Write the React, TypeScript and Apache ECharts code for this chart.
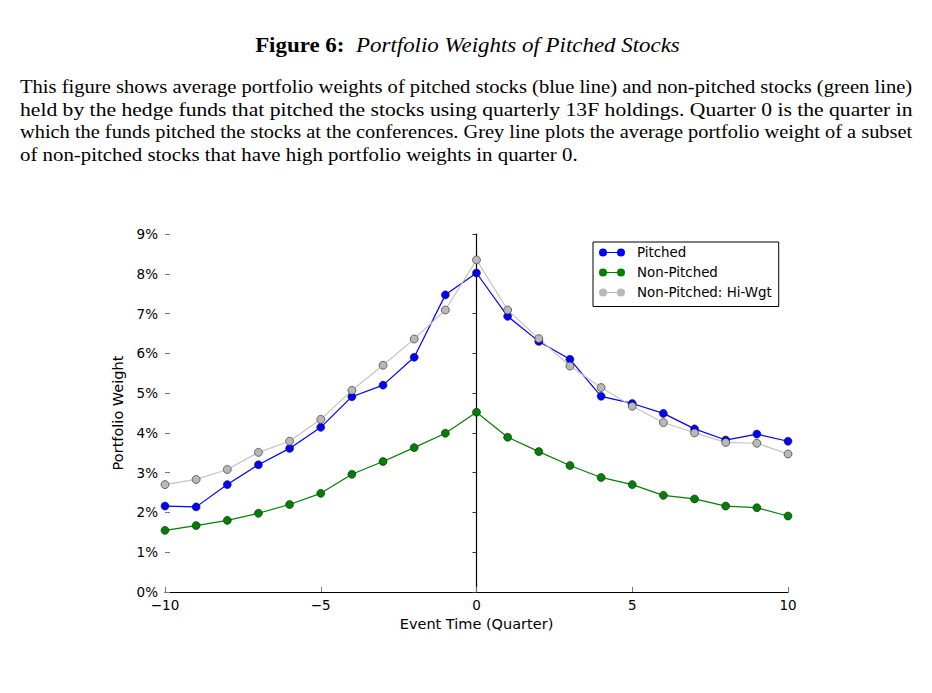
import React, { useEffect, useRef } from "react";
import * as echarts from "echarts";

const quarters = [-10, -9, -8, -7, -6, -5, -4, -3, -2, -1, 0, 1, 2, 3, 4, 5, 6, 7, 8, 9, 10];
const pitched = [2.16, 2.14, 2.7, 3.2, 3.61, 4.14, 4.91, 5.2, 5.9, 7.47, 8.02, 6.93, 6.3, 5.85, 4.92, 4.74, 4.49, 4.1, 3.82, 3.97, 3.79];
const nonPitched = [1.55, 1.67, 1.8, 1.98, 2.2, 2.48, 2.96, 3.28, 3.63, 3.99, 4.52, 3.89, 3.53, 3.18, 2.88, 2.7, 2.43, 2.34, 2.16, 2.12, 1.91];
const hiWgt = [2.7, 2.83, 3.08, 3.51, 3.79, 4.34, 5.07, 5.7, 6.36, 7.09, 8.35, 7.09, 6.37, 5.68, 5.14, 4.67, 4.26, 4.0, 3.76, 3.74, 3.47];

const seriesNames = ["Pitched", "Non-Pitched", "Non-Pitched: Hi-Wgt"];
const titleBold = "Figure 6:";
const titleItalic = "Portfolio Weights of Pitched Stocks";
const captionLines = [
  "This figure shows average portfolio weights of pitched stocks (blue line) and non-pitched stocks (green line)",
  "held by the hedge funds that pitched the stocks using quarterly 13F holdings. Quarter 0 is the quarter in",
  "which the funds pitched the stocks at the conferences. Grey line plots the average portfolio weight of a subset",
  "of non-pitched stocks that have high portfolio weights in quarter 0.",
];
const captionWidths = [893, 893, 893, 558];
const xAxisName = "Event Time (Quarter)";
const yAxisName = "Portfolio Weight";

const SANS = "DejaVu Sans";
const SERIF = "Liberation Serif";

const legendIcon =
  "path://M0,4A4,4,0,1,1,8,4A4,4,0,1,1,0,4Z M7,3.4L19,3.4L19,4.6L7,4.6Z M18,4A4,4,0,1,1,26,4A4,4,0,1,1,18,4Z";

function measure(text: string, font: string): number {
  const c = document.createElement("canvas");
  const ctx = c.getContext("2d");
  if (!ctx) return 0;
  ctx.font = font;
  return ctx.measureText(text).width;
}

export default function App() {
  const ref = useRef<HTMLDivElement>(null);
  useEffect(() => {
    if (!ref.current) return;
    const chart = echarts.init(ref.current, undefined, { renderer: "svg" });
    const mk = (vals: number[]) => quarters.map((q, i) => [q, vals[i]]);
    const lineColors = ["#0000ff", "#008000", "#c4c4c4"];
    const markColors = ["#0000ff", "#008000", "#b8b8b8"];
    const datas = [pitched, nonPitched, hiWgt];

    const titleSize = 21;
    const capSize = 18.5;
    const tItalic = "  " + titleItalic;
    const tw =
      measure(titleBold, `bold ${titleSize}px "${SERIF}"`) + measure(tItalic, `italic ${titleSize}px "${SERIF}"`);
    const titleScale = tw > 0 ? 425 / tw : 1;

    const graphic: any[] = [
      {
        type: "text",
        x: 467.5,
        y: 45,
        scaleX: titleScale,
        style: {
          text: `{b|${titleBold}}{i|${tItalic}}`,
          align: "center",
          verticalAlign: "middle",
          fill: "#000",
          rich: {
            b: { fontFamily: SERIF, fontWeight: "bold", fontSize: titleSize, fill: "#000" },
            i: { fontFamily: SERIF, fontStyle: "italic", fontSize: titleSize, fill: "#000" },
          },
        },
      },
      ...captionLines.map((t, i) => {
        const w = measure(t, `${capSize}px "${SERIF}"`);
        return {
          type: "text",
          x: 20,
          y: 87 + i * 22.5,
          scaleX: w > 0 ? captionWidths[i] / w : 1,
          style: {
            text: t,
            align: "left",
            verticalAlign: "middle",
            fill: "#000",
            fontFamily: SERIF,
            fontSize: capSize,
          },
        };
      }),
    ];

    chart.setOption({
      animation: false,
      backgroundColor: "#fff",
      graphic,
      grid: { left: 165, right: 144, top: 234, bottom: 101, containLabel: false, outerBoundsMode: "none" },
      legend: {
        orient: "vertical",
        left: 593,
        top: 242,
        backgroundColor: "#fff",
        borderColor: "#000",
        borderWidth: 1,
        borderRadius: 0,
        padding: [4, 7, 7.5, 6],
        itemGap: 7,
        itemWidth: 26,
        itemHeight: 8,
        icon: legendIcon,
        itemStyle: { borderWidth: 0 },
        textStyle: { fontFamily: SANS, fontSize: 13.4, color: "#000", padding: [0, 0, 0, 7] },
        data: seriesNames,
      },
      xAxis: {
        type: "value",
        min: -10,
        max: 10,
        interval: 5,
        name: xAxisName,
        nameLocation: "middle",
        nameGap: 22,
        nameTextStyle: { fontFamily: SANS, fontSize: 14.5, color: "#000" },
        axisLine: { onZero: false, lineStyle: { color: "#000", width: 1.2 } },
        axisTick: { inside: true, length: 5, lineStyle: { color: "#777" } },
        splitLine: { show: false },
        axisLabel: {
          fontFamily: SANS,
          fontSize: 13.5,
          lineHeight: 11,
          color: "#000",
          margin: 7,
          formatter: (v: number) => (v < 0 ? "\u2212" + Math.abs(v) : String(v)),
        },
      },
      yAxis: [
        {
          type: "value",
          min: 0,
          max: 9,
          interval: 1,
          position: "left",
          name: yAxisName,
          nameLocation: "middle",
          nameGap: 35,
          nameTextStyle: { fontFamily: SANS, fontSize: 14.5, color: "#000" },
          axisLine: { show: false, onZero: false },
          axisTick: { show: true, inside: true, length: 5, lineStyle: { color: "#777" } },
          splitLine: { show: false },
          axisLabel: { fontFamily: SANS, fontSize: 13.5, lineHeight: 11, color: "#000", margin: 7, formatter: "{value}%" },
        },
        {
          type: "value",
          min: 0,
          max: 9,
          interval: 1,
          position: "right",
          axisLine: { show: true, onZero: true, onZeroAxisIndex: 0, lineStyle: { color: "#000", width: 1.2 } },
          axisTick: { show: true, inside: true, length: 4, lineStyle: { color: "#333" } },
          axisLabel: { show: false },
          splitLine: { show: false },
        },
      ],
      series: seriesNames.map((name, k) => ({
        type: "line",
        name,
        data: mk(datas[k]),
        symbol: "circle",
        symbolSize: 8,
        showAllSymbol: true,
        clip: true,
        lineStyle: { color: lineColors[k], width: 1.2 },
        itemStyle: { color: markColors[k], borderColor: "#222", borderWidth: 0.6 },
        emphasis: { disabled: true },
      })),
    });
    return () => chart.dispose();
  }, []);
  return <div ref={ref} style={{ position: "fixed", left: 0, top: 0, width: 932, height: 693 }} />;
}
